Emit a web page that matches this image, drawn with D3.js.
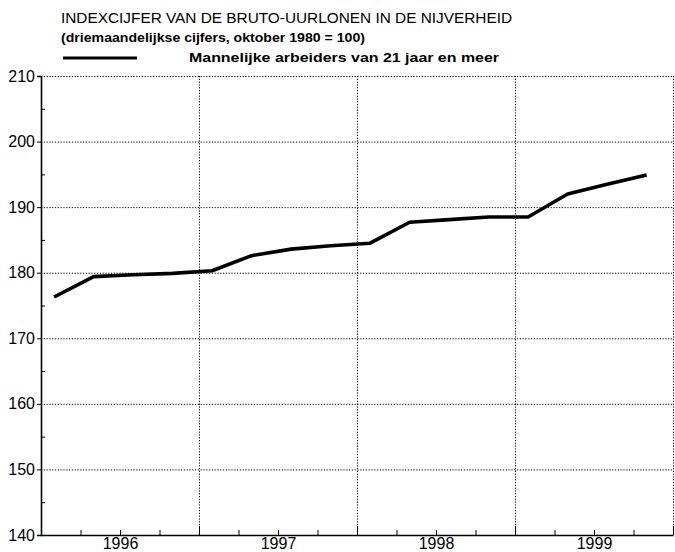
<!DOCTYPE html>
<html>
<head>
<meta charset="utf-8">
<script src="https://cdn.jsdelivr.net/npm/d3@7"></script>
<style>
    body { margin: 0; background: #ffffff; }
    svg { font-family: "Liberation Sans", Arial, sans-serif; }
    .grid line { stroke: #000000; stroke-width: 1; stroke-dasharray: 1.2,1.6; }
    .grid path { display: none; }
</style>
</head>
<body>
<svg id="chart" width="675" height="552"></svg>
<script>

// quarterly points (plotted one month into each quarter)
var periods = ["1996 K1", "1996 K2", "1996 K3", "1996 K4",
               "1997 K1", "1997 K2", "1997 K3", "1997 K4",
               "1998 K1", "1998 K2", "1998 K3", "1998 K4",
               "1999 K1", "1999 K2", "1999 K3", "1999 K4"];
var timePos = [1996.083, 1996.333, 1996.583, 1996.833,
               1997.083, 1997.333, 1997.583, 1997.833,
               1998.083, 1998.333, 1998.583, 1998.833,
               1999.083, 1999.333, 1999.583, 1999.833];
var indexMen = [176.3, 179.4, 179.7, 179.9,
                180.3, 182.6, 183.6, 184.1,
                184.5, 187.7, 188.1, 188.5,
                188.5, 192.0, 193.5, 194.9];

var yearLabels = ["1996", "1997", "1998", "1999"];
var yTicks = [140, 150, 160, 170, 180, 190, 200, 210];

var titleText = "INDEXCIJFER VAN DE BRUTO-UURLONEN IN DE NIJVERHEID";
var subtitleText = "(driemaandelijkse cijfers, oktober 1980 = 100)";
var legendText = "Mannelijke arbeiders van 21 jaar en meer";

function load_chart(svg_name) {

    let chart = d3.select(svg_name);

    let x = d3.scaleLinear()
        .domain([1996, 2000])
        .range([41, 673]);

    let y = d3.scaleLinear()
        .domain([140, 210])
        .range([535, 76]);

    // horizontal dotted grid
    chart.append("g")
        .attr("class", "grid")
        .attr("transform", "translate(41,0)")
        .call(d3.axisRight(y).tickValues(yTicks.slice(1)).tickSize(632).tickFormat(""));

    // vertical dotted grid at the year boundaries
    chart.append("g")
        .attr("class", "grid")
        .attr("transform", "translate(0,76)")
        .call(d3.axisBottom(x).tickValues([1997, 1998, 1999, 2000]).tickSize(459).tickFormat(""));

    // y axis, labels outside, small ticks at the fives inside
    var yAxis = d3.axisLeft(y)
        .tickValues(yTicks)
        .tickSize(4)
        .tickPadding(2)
        .tickFormat(d3.format("d"));
    var yAxisGroup = chart.append("g")
        .attr("class", "axis")
        .attr("transform", "translate(41,0)")
        .call(yAxis);
    yAxisGroup.select(".domain").attr("stroke-width", 1.6);
    yAxisGroup.selectAll("text")
        .style("font-size", "16px")
        .style("fill", "#000000");

    chart.append("g")
        .attr("transform", "translate(41,0)")
        .call(d3.axisRight(y).tickValues(d3.range(145, 210, 10)).tickSize(4).tickFormat(""))
        .select(".domain").remove();

    // x axis with quarter ticks pointing up
    var quarterTicks = d3.range(1996.25, 2000, 0.25).filter(function(d) { return d % 1 !== 0; });
    chart.append("g")
        .attr("transform", "translate(0,535)")
        .call(d3.axisTop(x).tickValues(quarterTicks).tickSize(5).tickFormat(""))
        .select(".domain").remove();
    chart.append("g")
        .attr("transform", "translate(0,535)")
        .call(d3.axisTop(x).tickValues([1997, 1998, 1999, 2000]).tickSize(9).tickFormat(""))
        .select(".domain").remove();

    var xAxisGroup = chart.append("g")
        .attr("class", "axis")
        .attr("transform", "translate(0,535)")
        .call(d3.axisBottom(x).tickValues([1996.5, 1997.5, 1998.5, 1999.5]).tickSize(0).tickPadding(3)
            .tickFormat(function(d, i) { return yearLabels[i]; }));
    xAxisGroup.select(".domain").attr("stroke-width", 1.6);
    xAxisGroup.selectAll("text")
        .style("font-size", "16px")
        .style("fill", "#000000");

    // the series
    var line = d3.line()
        .x(function(d, i) { return x(timePos[i]); })
        .y(function(d) { return y(d); });

    chart.append("path")
        .datum(indexMen)
        .attr("d", line)
        .attr("fill", "none")
        .attr("stroke", "#000000")
        .attr("stroke-width", 3.6)
        .attr("stroke-linejoin", "round");

    // titles and legend
    chart.append("text")
        .text(titleText)
        .attr("x", 61)
        .attr("y", 23)
        .attr("textLength", 451)
        .attr("lengthAdjust", "spacingAndGlyphs")
        .style("font-size", "14.5px")
        .style("fill", "#000000");

    chart.append("text")
        .text(subtitleText)
        .attr("x", 61)
        .attr("y", 42)
        .attr("textLength", 304)
        .attr("lengthAdjust", "spacingAndGlyphs")
        .style("font-size", "13px")
        .style("font-weight", "bold")
        .style("fill", "#000000");

    chart.append("line")
        .attr("x1", 63)
        .attr("x2", 137)
        .attr("y1", 58)
        .attr("y2", 58)
        .attr("stroke", "#000000")
        .attr("stroke-width", 3);

    chart.append("text")
        .text(legendText)
        .attr("x", 189)
        .attr("y", 62)
        .attr("textLength", 310)
        .attr("lengthAdjust", "spacingAndGlyphs")
        .style("font-size", "13px")
        .style("font-weight", "bold")
        .style("fill", "#000000");
}

load_chart("#chart");
</script>
</body>
</html>
